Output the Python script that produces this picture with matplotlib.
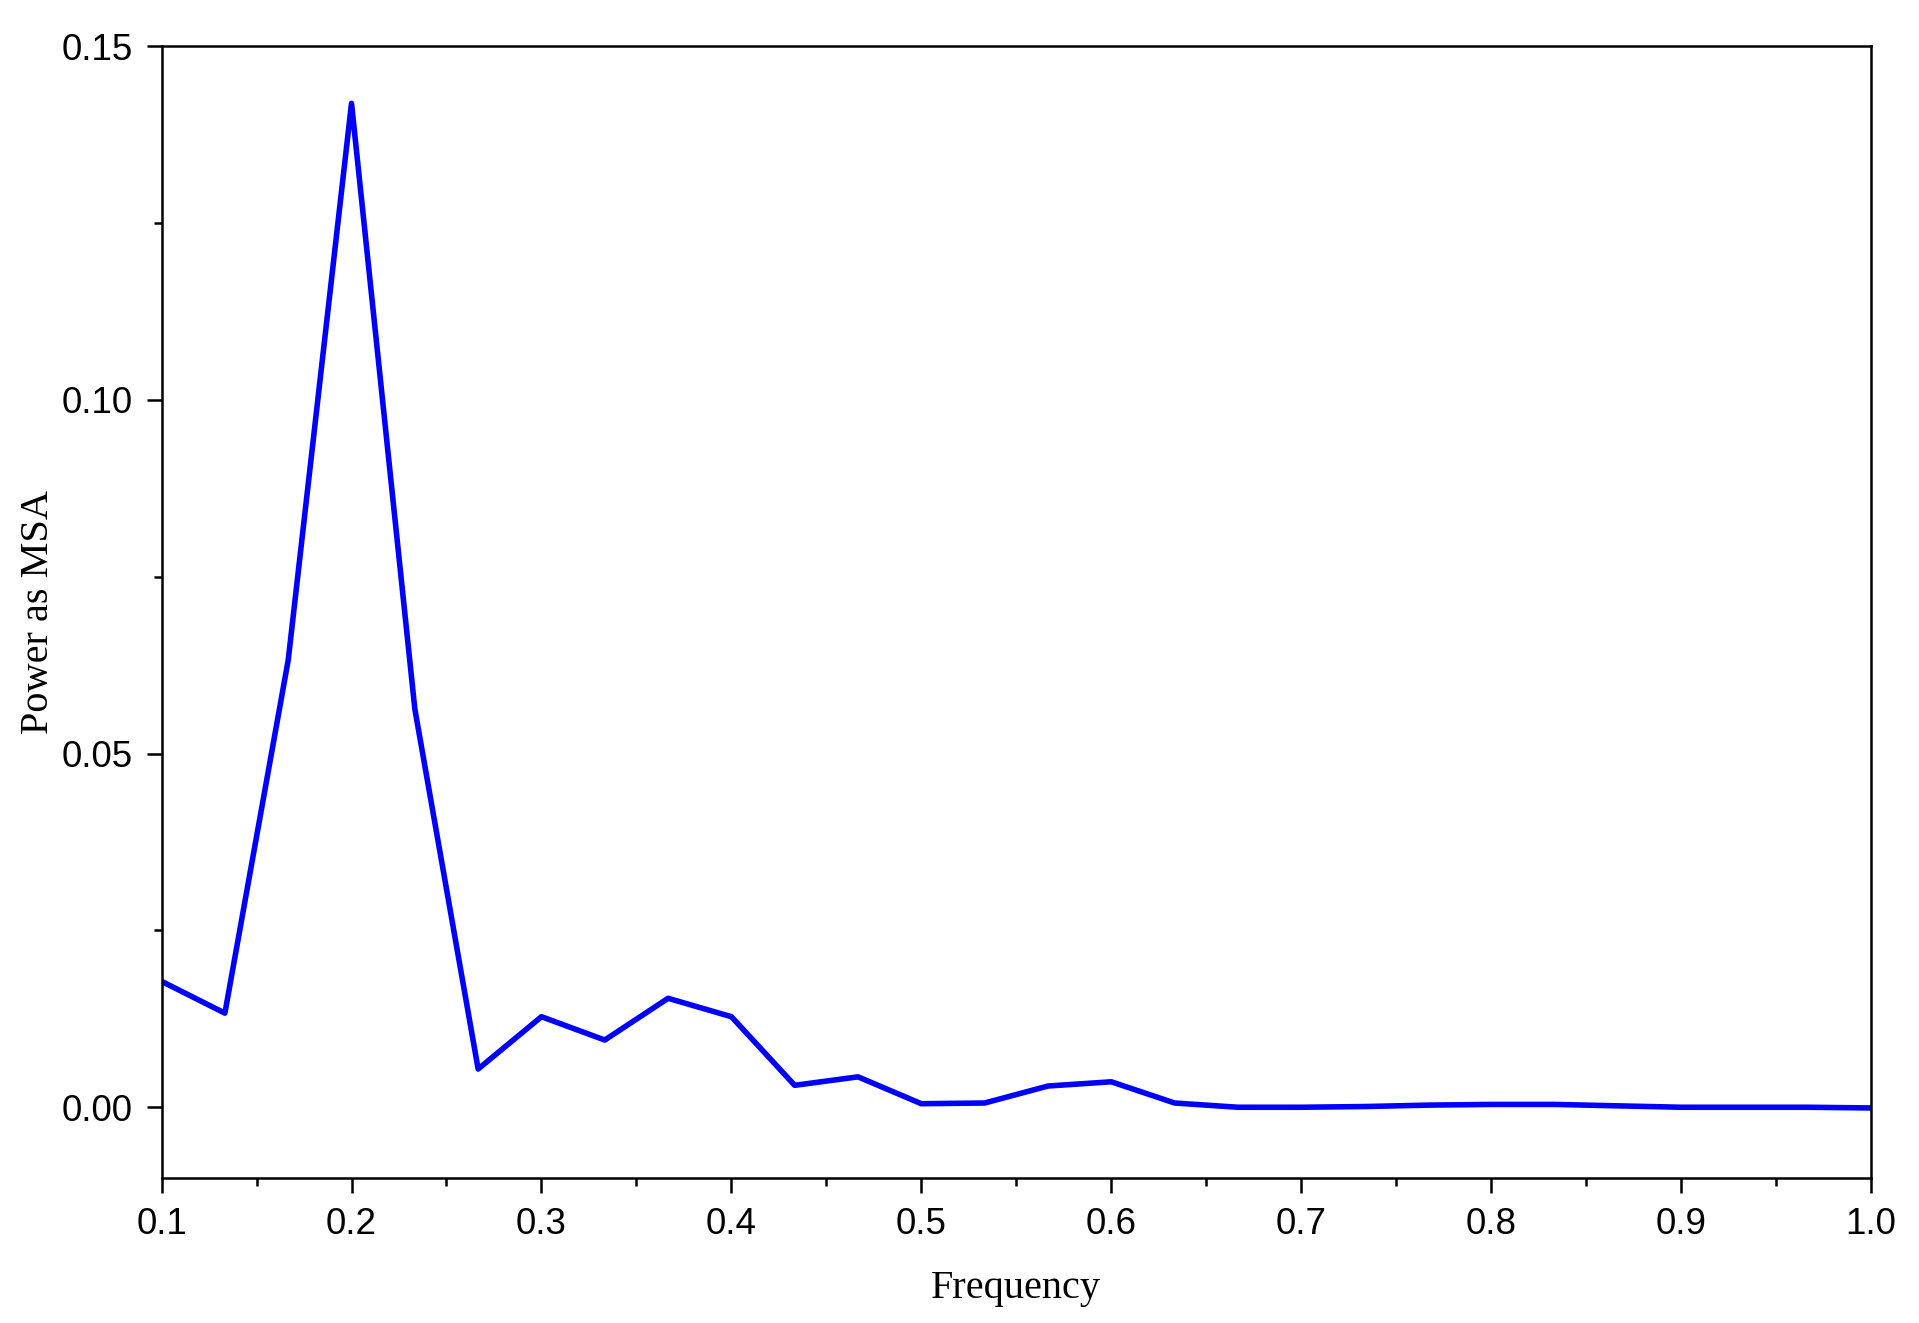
import numpy as np
import matplotlib.pyplot as plt
from matplotlib.ticker import MultipleLocator

# frequency grid (steps of 1/30) and power values
freq = np.arange(3, 31) / 30.0
power = [0.0178, 0.0133, 0.0632, 0.1419, 0.0563, 0.0054, 0.0128, 0.0095,
         0.0154, 0.0128, 0.0031, 0.0043, 0.0005, 0.0006, 0.0030, 0.0036,
         0.0006, 0.0000, 0.0000, 0.0001, 0.0003, 0.0004, 0.0004, 0.0002,
         0.0000, 0.0000, 0.0000, -0.0001]

fig = plt.figure(figsize=(19.19, 13.23), dpi=100)
ax = fig.add_axes([0.0842, 0.1096, 0.8908, 0.8556])

ax.plot(freq, power, color='#0000ff', lw=4)

ax.set_xlim(0.1, 1.0)
ax.set_ylim(-0.01, 0.15)
ax.xaxis.set_major_locator(MultipleLocator(0.1))
ax.xaxis.set_minor_locator(MultipleLocator(0.05))
ax.yaxis.set_major_locator(MultipleLocator(0.05))
ax.yaxis.set_minor_locator(MultipleLocator(0.025))
ax.xaxis.set_major_formatter(plt.FuncFormatter(lambda v, p: '%.1f' % v))
ax.yaxis.set_major_formatter(plt.FuncFormatter(lambda v, p: '%.2f' % v))

for s in ax.spines.values():
    s.set_linewidth(1.8)

ax.tick_params(which='major', direction='out', length=11, width=1.8,
               labelsize=26.5, pad=10)
ax.tick_params(which='minor', direction='out', length=6, width=1.8)
for lab in ax.get_xticklabels() + ax.get_yticklabels():
    lab.set_fontfamily('Liberation Sans')

ax.set_xlabel('Frequency', fontsize=29, family='Liberation Serif', labelpad=20)
ax.set_ylabel('Power as MSA', fontsize=29, family='Liberation Serif', labelpad=3)

fig.savefig('out.png', dpi=100)
